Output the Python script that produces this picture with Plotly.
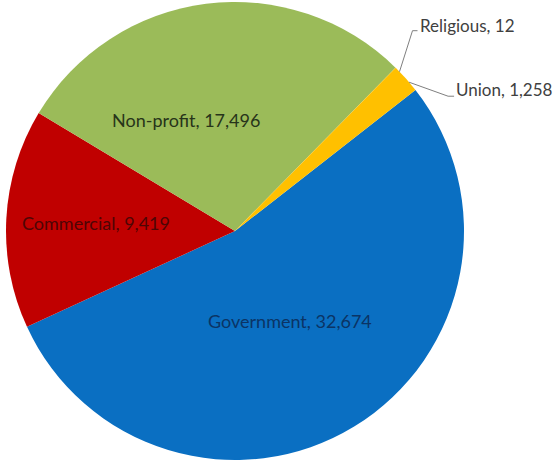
import math
import plotly.graph_objects as go

# ---- data ----
categories = ["Government", "Commercial", "Non-profit", "Religious", "Union"]
values = [32674, 9419, 17496, 12, 1258]
colors = ["#0A6FC2", "#C00000", "#9BBB59", "#FFC000", "#FFC000"]
text_colors = ["#0B3465", "#4E0505", "#27341A", "#404040", "#404040"]

# ---- layout geometry (pixels) ----
W, H = 556, 462
CX, CY, R = 235, 231, 229
ROTATION = 52  # start of first slice, degrees clockwise from 12 o'clock

total = sum(values)
mids = []
acc = ROTATION
for v in values:
    span = 360.0 * v / total
    mids.append(acc + span / 2)
    acc += span


def px(angle_deg, rfrac):
    a = math.radians(angle_deg)
    return CX + R * rfrac * math.sin(a), CY - R * rfrac * math.cos(a)


def paper(x, y):
    return x / W, 1 - y / H


fig = go.Figure(
    go.Pie(
        labels=categories,
        values=values,
        sort=False,
        direction="clockwise",
        rotation=ROTATION,
        marker=dict(colors=colors, line=dict(width=0)),
        textinfo="none",
        hoverinfo="label+value",
        showlegend=False,
        domain=dict(x=[(CX - R) / W, (CX + R) / W],
                    y=[1 - (CY + R) / H, 1 - (CY - R) / H]),
    )
)

FONT = "Lato, Calibri, Carlito, sans-serif"
FS = 18
FS_OUT = 17

# inside labels: (angle offset from slice middle, radius fraction)
inside_place = {"Government": (0, 0.46), "Commercial": (0, 0.61), "Non-profit": (-16.5, 0.53)}
annotations = []
for i, c in enumerate(categories):
    if c in inside_place:
        off, rf = inside_place[c]
        x, y = px(mids[i] + off, rf)
        xp, yp = paper(x, y)
        annotations.append(dict(
            x=xp, y=yp, xref="paper", yref="paper", showarrow=False,
            text=f"{c}, {values[i]:,}", xanchor="center", yanchor="middle",
            font=dict(family=FONT, size=FS, color=text_colors[i])))

# outside labels with elbow leader lines:
# (angle offset, edge fraction, elbow dx, elbow dy, horizontal run, text y)
outside_place = {"Religious": (1.4, 1.0, 13, -41, 5, 25), "Union": (1.2, 1.0, 39, 14, 6, 90)}
shapes = []
for i, c in enumerate(categories):
    if c in outside_place:
        off, rf, edx, edy, tdx, ty = outside_place[c]
        x0, y0 = px(mids[i] + off, rf)
        x1, y1 = x0 + edx, y0 + edy
        x2, y2 = x1 + tdx, y1
        p0, p1, p2 = paper(x0, y0), paper(x1, y1), paper(x2, y2)
        shapes.append(dict(
            type="path", xref="paper", yref="paper",
            path=f"M {p0[0]},{p0[1]} L {p1[0]},{p1[1]} L {p2[0]},{p2[1]}",
            line=dict(color="#7F7F7F", width=1)))
        tx, typ = paper(x2, ty)
        annotations.append(dict(
            x=tx, y=typ, xref="paper", yref="paper", showarrow=False,
            text=f"{c}, {values[i]:,}", xanchor="left", yanchor="middle",
            font=dict(family=FONT, size=FS_OUT, color=text_colors[i])))

fig.update_layout(
    width=W, height=H,
    margin=dict(l=0, r=0, t=0, b=0),
    paper_bgcolor="white", plot_bgcolor="white",
    annotations=annotations, shapes=shapes,
)

fig.write_html(
    "out.html",
    config={"displayModeBar": False},
    post_script="document.body.style.margin='0';document.body.style.overflow='hidden';",
)
